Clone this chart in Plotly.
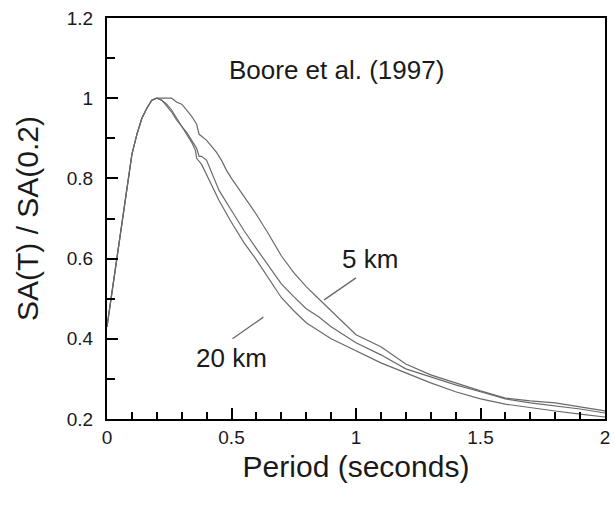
import plotly.graph_objects as go

# Shared rising branch (period in s, normalized SA)
rise_T = [0.0, 0.03, 0.06, 0.1, 0.12, 0.14, 0.16, 0.18, 0.2]
rise_sa = [0.43, 0.56, 0.69, 0.86, 0.91, 0.95, 0.975, 0.995, 1.0]

t_5km = [0.22, 0.24, 0.26, 0.28, 0.30, 0.32, 0.34, 0.36, 0.37, 0.38, 0.40, 0.42,
         0.44, 0.46, 0.48, 0.5, 0.55, 0.6, 0.65, 0.7, 0.75, 0.8, 0.85, 0.9, 0.95,
         1.0, 1.1, 1.2, 1.3, 1.4, 1.5, 1.6, 1.7, 1.8, 1.9, 2.0]
sa_5km = [1.0, 1.0, 1.0, 0.99, 0.985, 0.97, 0.955, 0.935, 0.91, 0.905, 0.895, 0.88,
          0.865, 0.845, 0.82, 0.80, 0.755, 0.71, 0.66, 0.607, 0.565, 0.53, 0.5, 0.47, 0.44,
          0.41, 0.38, 0.337, 0.31, 0.29, 0.27, 0.252, 0.245, 0.24, 0.23, 0.22]

t_mid = [0.22, 0.24, 0.26, 0.28, 0.30, 0.32, 0.34, 0.36, 0.37, 0.38, 0.40, 0.42,
         0.45, 0.5, 0.55, 0.6, 0.65, 0.7, 0.75, 0.8, 0.85, 0.9, 0.95, 1.0, 1.1,
         1.2, 1.3, 1.4, 1.5, 1.6, 1.7, 1.8, 1.9, 2.0]
sa_mid = [0.995, 0.98, 0.965, 0.945, 0.93, 0.915, 0.895, 0.875, 0.855, 0.855, 0.845,
          0.815, 0.77, 0.72, 0.67, 0.625, 0.58, 0.537, 0.505, 0.475, 0.455, 0.43, 0.41,
          0.39, 0.36, 0.325, 0.305, 0.285, 0.268, 0.25, 0.24, 0.232, 0.225, 0.215]

t_20km = [0.22, 0.24, 0.26, 0.28, 0.30, 0.32, 0.34, 0.355, 0.36, 0.38, 0.40, 0.42,
          0.45, 0.5, 0.55, 0.6, 0.65, 0.7, 0.75, 0.8, 0.85, 0.9, 0.95, 1.0, 1.1,
          1.2, 1.3, 1.4, 1.5, 1.6, 1.7, 1.8, 1.9, 2.0]
sa_20km = [0.995, 0.985, 0.97, 0.95, 0.93, 0.91, 0.89, 0.87, 0.85, 0.835, 0.81,
           0.785, 0.745, 0.69, 0.64, 0.597, 0.55, 0.503, 0.47, 0.44, 0.42, 0.40, 0.385,
           0.37, 0.34, 0.315, 0.29, 0.268, 0.25, 0.237, 0.228, 0.22, 0.212, 0.205]

x_ticks = [0, 0.5, 1, 1.5, 2]
x_labels = ["0", "0.5", "1", "1.5", "2"]
y_ticks = [0.2, 0.4, 0.6, 0.8, 1.0, 1.2]
y_labels = ["0.2", "0.4", "0.6", "0.8", "1", "1.2"]

FONT = "Liberation Sans, Arial, Helvetica, sans-serif"
TXT = "#1a1a1a"
LINE = dict(color="#6a6a6a", width=1.2)

fig = go.Figure()
for t, sa in [(t_5km, sa_5km), (t_mid, sa_mid), (t_20km, sa_20km)]:
    fig.add_trace(go.Scatter(x=rise_T + t, y=rise_sa + sa, mode="lines",
                             line=LINE, showlegend=False, hoverinfo="skip"))

axis_common = dict(
    showgrid=False, zeroline=False, showline=True, linecolor="black",
    linewidth=2, mirror=True, ticks="inside", tickcolor="black",
    tickwidth=1.5, ticklen=11,
    tickfont=dict(family=FONT, size=19, color=TXT),
)

fig.update_xaxes(range=[0, 2], tickvals=x_ticks, ticktext=x_labels,
                 minor=dict(dtick=0.1, ticks="inside", ticklen=7, tickwidth=1.5,
                            tickcolor="black", showgrid=False),
                 title=dict(text="Period (seconds)", font=dict(family=FONT, size=30, color=TXT),
                            standoff=9),
                 **axis_common)
fig.update_yaxes(range=[0.2, 1.2], tickvals=y_ticks, ticktext=y_labels,
                 ticklabelstandoff=8,
                 minor=dict(dtick=0.1, ticks="inside", ticklen=8, tickwidth=1.5,
                            tickcolor="black", showgrid=False),
                 title=dict(text="SA(T) / SA(0.2)", font=dict(family=FONT, size=30, color=TXT),
                            standoff=19),
                 **axis_common)

fig.add_annotation(x=0.92, y=1.07, text="Boore et al. (1997)", showarrow=False,
                   font=dict(family=FONT, size=26, color=TXT))
fig.add_annotation(x=1.056, y=0.6, text="5 km", showarrow=False,
                   font=dict(family=FONT, size=26, color=TXT))
fig.add_annotation(x=0.5, y=0.352, text="20 km", showarrow=False,
                   font=dict(family=FONT, size=26, color=TXT))
fig.add_shape(type="line", x0=0.872, y0=0.497, x1=1.0, y1=0.552,
              line=dict(color="#6a6a6a", width=1.3))
fig.add_shape(type="line", x0=0.504, y0=0.4, x1=0.628, y1=0.454,
              line=dict(color="#6a6a6a", width=1.3))

fig.update_layout(width=615, height=505, margin=dict(l=107, r=5, t=18, b=86),
                  plot_bgcolor="white", paper_bgcolor="white")

fig.write_html("out.html")
